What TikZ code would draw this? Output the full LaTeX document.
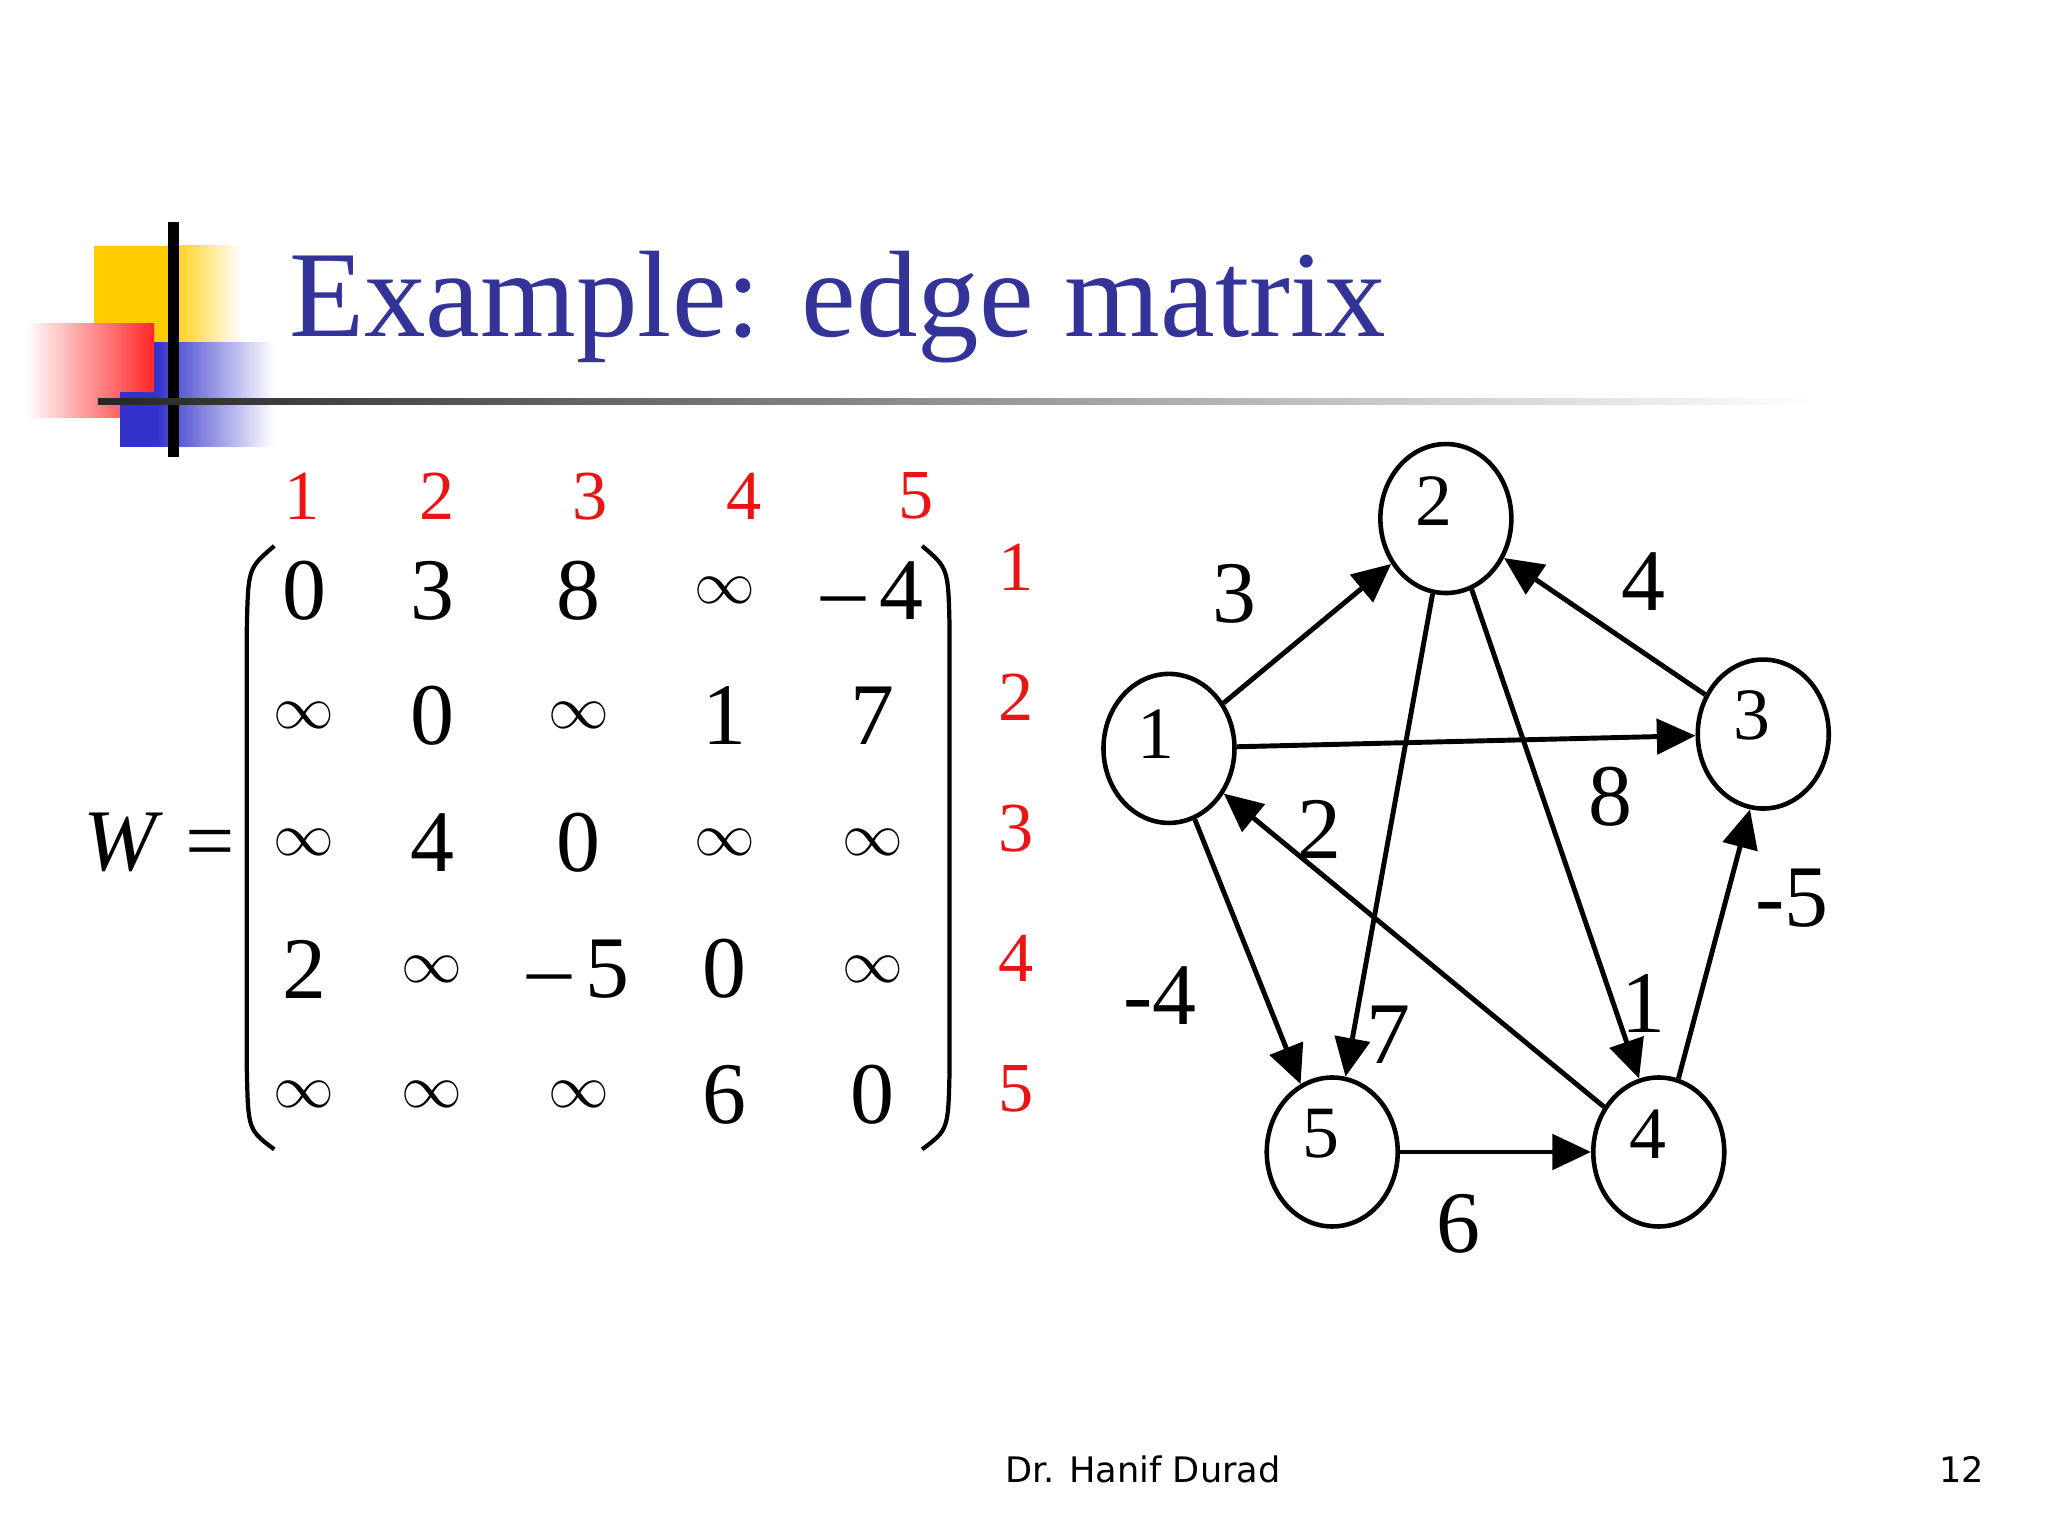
\documentclass[tikz,border=0pt]{standalone}
\usepackage{fontspec}
\setmainfont{Liberation Serif}
\newfontfamily\footfont{DejaVu Sans}
\usetikzlibrary{shapes.geometric,arrows.meta}
\definecolor{titleblue}{RGB}{51,51,153}
\definecolor{lblred}{RGB}{235,20,20}
\definecolor{logoyellow}{RGB}{255,204,0}
\definecolor{logoblue}{RGB}{51,51,204}
\newcommand{\inft}{{\fontsize{17}{17}\selectfont$\infty$}}
\tikzset{
  ent/.style={font=\fontsize{25}{25}\selectfont},
  rl/.style={text=lblred,font=\fontsize{20}{20}\selectfont},
  vx/.style={draw,ellipse,line width=1.3pt,minimum width=1.31cm,minimum height=1.49cm,inner sep=0pt},
  vl/.style={font=\fontsize{21}{21}\selectfont},
  ed/.style={line width=1.4pt,-{Triangle[length=11pt,width=10pt]}},
  el/.style={font=\fontsize{25}{25}\selectfont},
}
\begin{document}
\begin{tikzpicture}[x=0.01306cm,y=-0.01306cm]
\useasboundingbox (0,0) rectangle (1568,1176);
% logo
\shade[left color=logoyellow,right color=white] (128,188) rectangle (185,300);
\fill[logoyellow] (72,188) rectangle (128,300);
\shade[left color=white,right color=red!85] (20,248) rectangle (118,320);
\shade[left color=logoblue,right color=white] (120,262) rectangle (210,342);
\fill[logoblue] (92,300) rectangle (120,342);
\fill[logoblue] (118,262) rectangle (122,342);
\draw[line width=3pt] (133,170) -- (133,350);
\shade[left color=black!85,right color=white] (75,305) rectangle (1390,310);
\node[anchor=base west,text=titleblue,font=\fontsize{35}{35}\selectfont] (title) at (212,258) {Example: edge matrix};
% matrix
\foreach \r/\y/\a/\b/\c/\d/\e in {1/452/0/3/8/\inft/–\,4, 2/548/\inft/0/\inft/1/7, 3/645/\inft/4/0/\inft/\inft, 4/742/2/\inft/–\,5/0/\inft, 5/838/\inft/\inft/\inft/6/0}{
  \node[ent] (m\r a) at (233,\y) {\a};
  \node[ent] (m\r b) at (331,\y) {\b};
  \node[ent] (m\r c) at (443,\y) {\c};
  \node[ent] (m\r d) at (555,\y) {\d};
  \node[ent] (m\r e) at (668,\y) {\e};
}
\node[ent] (W) at (122,645) {\textit{W} =};
\draw[line width=1.2pt] (210,418) .. controls (190,435) .. (189,480) -- (189,820) .. controls (190,865) .. (210,880);
\draw[line width=1.2pt] (706,418) .. controls (726,435) .. (727,480) -- (727,820) .. controls (726,865) .. (706,880);
\foreach \i/\x in {1/231,2/335,3/452,4/570,5/701}{\node[rl] (c\i) at (\x,380) {\i};}
\foreach \i/\y in {1/434,2/534,3/634,4/734,5/834}{\node[rl] (r\i) at (778,\y) {\i};}
% graph
\node[vx] (n1) at (895,573) {};
\node[vx] (n2) at (1107,397) {};
\node[vx] (n3) at (1350,562) {};
\node[vx] (n4) at (1270,882) {};
\node[vx] (n5) at (1020,882) {};
\node[vl] at (885,562) {1};
\node[vl] at (1098,384) {2};
\node[vl] at (1341,548) {3};
\node[vl] at (1262,868) {4};
\node[vl] at (1011,868) {5};
\draw[ed] (n1) -- (n2);
\draw[ed] (n3) -- (n2);
\draw[ed] (n1) -- (n3);
\draw[ed] (n2.-100) -- (n5.80);
\draw[ed] (n2.-70) -- (n4.105);
\draw[ed] (n4) -- (n1);
\draw[ed] (n1.-70) -- (n5.115);
\draw[ed] (n5) -- (n4);
\draw[ed] (n4.75) -- (n3.-100);
\node[el] (l3) at (945,455) {3};
\node[el] (l4) at (1258,445) {4};
\node[el] (l8) at (1233,610) {8};
\node[el] (l2) at (1010,635) {2};
\node[el] (lm5) at (1372,688) {-5};
\node[el] (lm4) at (888,762) {-4};
\node[el] (l7) at (1063,792) {7};
\node[el] (l1) at (1258,768) {1};
\node[el] (l6) at (1117,937) {6};
\node[font=\footfont\fontsize{10}{12}\selectfont] (ft) at (875,1125) {Dr. Hanif Durad};
\node[font=\footfont\fontsize{10}{12}\selectfont] (pg) at (1502,1125) {12};
\end{tikzpicture}
\end{document}
